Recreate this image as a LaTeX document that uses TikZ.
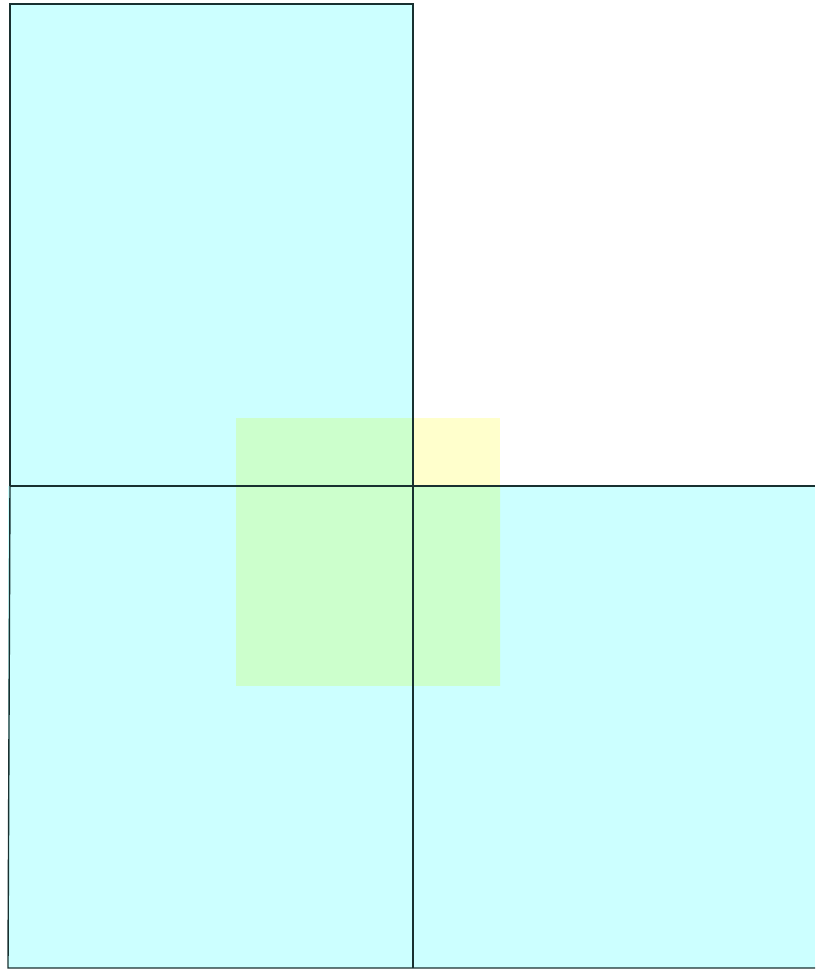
\documentclass[tikz,border=0pt]{standalone}
\usepackage{tikz}
\usepackage{xcolor}
\definecolor{tilecyan}{RGB}{204,255,255}
\definecolor{tileyellow}{RGB}{255,255,204}
\definecolor{tilegreen}{RGB}{204,255,204}
\definecolor{edgedark}{RGB}{24,48,48}

\begin{document}
\begin{tikzpicture}[x=1pt, y=-1pt]

        % Définition des styles
        \tikzset{
            tile/.style={fill=tilecyan, draw=none},
            overlay/.style={fill=tileyellow, draw=none},
            edge/.style={draw=edgedark, line width=1.4pt}
        }

        \useasboundingbox (0,0) rectangle (815,970);

        % --- CARRÉS CYAN ---
        \fill[tile] (10,4) rectangle (413,486);
        \fill[tile] (8,486) rectangle (413,968);
        \fill[tile] (413,486) rectangle (815,968);

        % --- CARRÉ JAUNE (superposé) ---
        \fill[overlay] (236,418) rectangle (500,685);
        \begin{scope}
            \clip (236,418) rectangle (500,685);
            \fill[tilegreen] (10,4) rectangle (413,486);
            \fill[tilegreen] (8,486) rectangle (815,968);
        \end{scope}

        % --- BORDS ---
        \draw[edge] (10,486) -- (10,4) -- (413,4) -- (413,968);
        \draw[edge] (10,486) -- (815,486);
        \draw[edge] (10,486) -- (8,968) -- (815,968);

    \end{tikzpicture}
\end{document}
